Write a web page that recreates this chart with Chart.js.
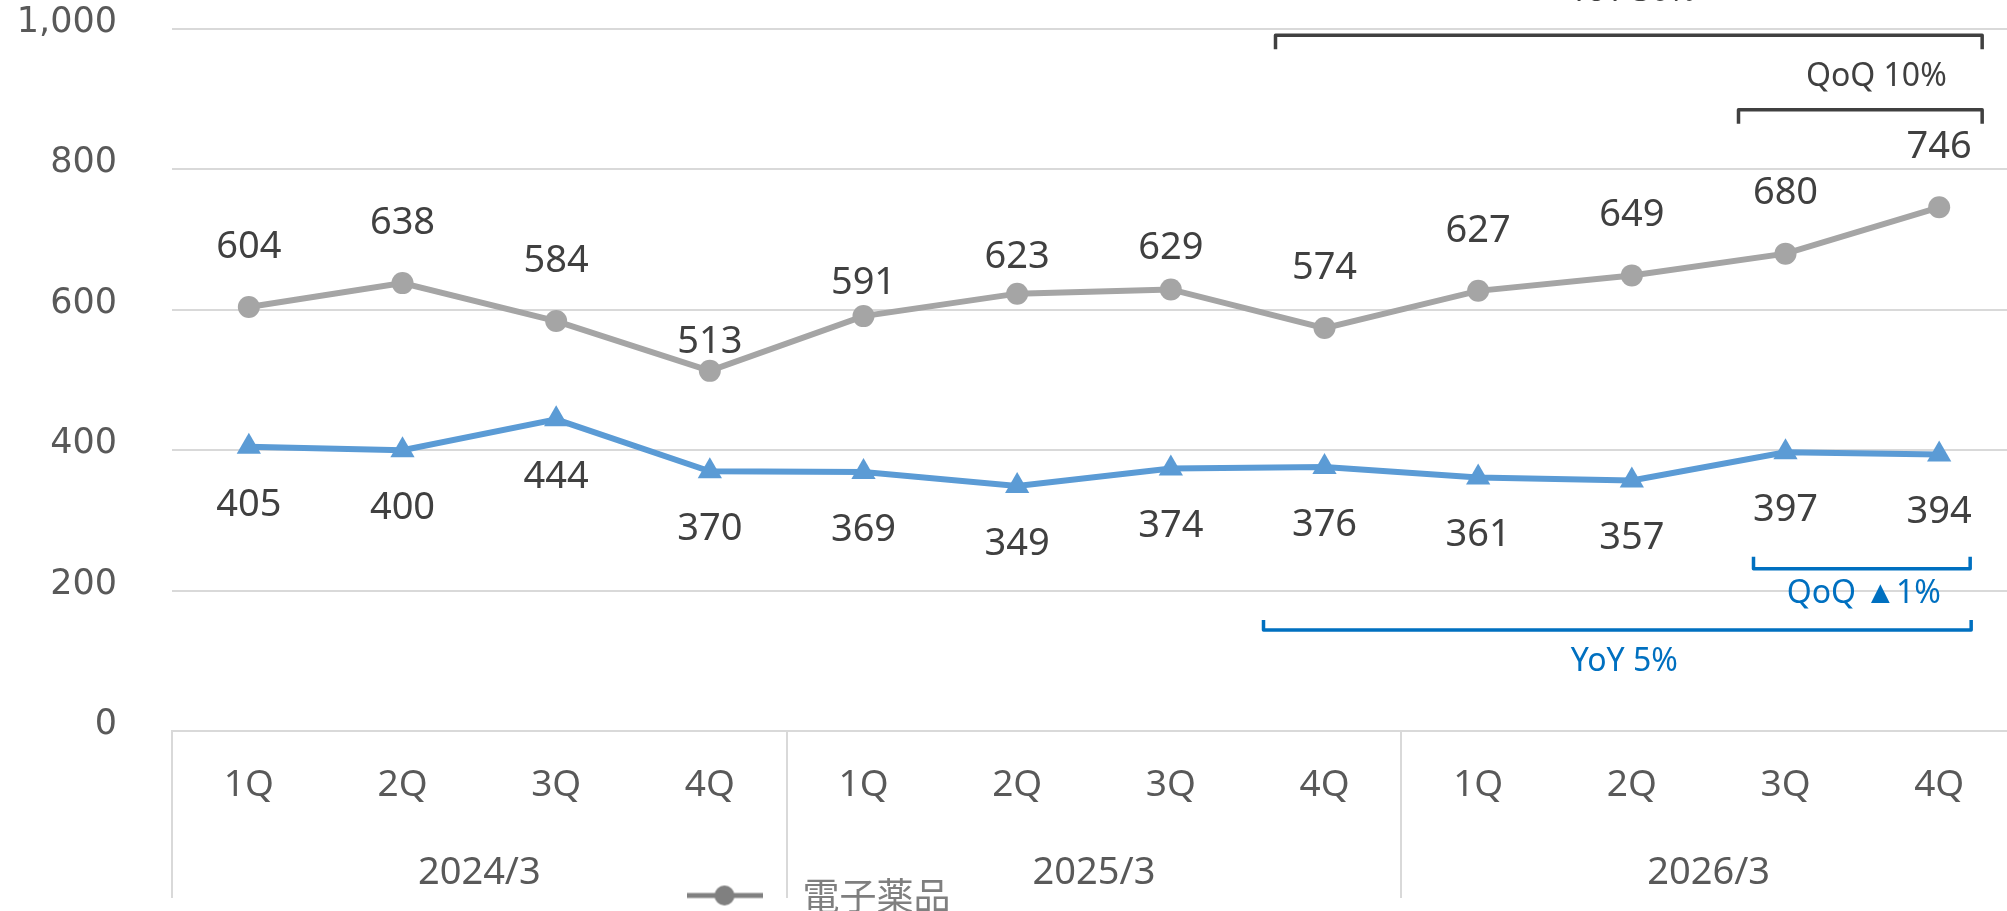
<!DOCTYPE html>
<html lang="ja">
<head>
<meta charset="UTF-8">
<title>電子薬品 四半期推移</title>
<style>
    html, body { margin: 0; padding: 0; overflow: hidden; background: #fff; }
    #chart { display: block; }
</style>
</head>
<body>
<canvas id="chart" width="2030" height="1000"></canvas>
<script src="https://cdn.jsdelivr.net/npm/chart.js@4/dist/chart.umd.min.js"></script>
<script>
// values
const quarters = ['1Q', '2Q', '3Q', '4Q', '1Q', '2Q', '3Q', '4Q', '1Q', '2Q', '3Q', '4Q'];
const fiscalYears = ['2024/3', '2025/3', '2026/3'];
const chemicals = [604, 638, 584, 513, 591, 623, 629, 574, 627, 649, 680, 746];
const secondLine = [405, 400, 444, 370, 369, 349, 374, 376, 361, 357, 397, 394];

// label nudges (px), a few gray labels sit closer to their point
const grayLabelShift = [-60, -60, -60, -29, -33, -36, -41, -60, -60, -60, -60, -60];
const blueLabelShift = [58, 58, 58, 58, 58, 58, 58, 58, 58, 58, 58, 58];

// growth brackets: from/to are category indexes, heights are y values
const growthNotes = [
    { text: 'YoY 30%', from: 7, to: 11, padL: 49, padR: 43, lineAt: 991, hook: 14, textAt: 1053, dx: 4, color: '#404040' },
    { text: 'QoQ 10%', from: 10, to: 11, padL: 47, padR: 43, lineAt: 885, hook: 14, textAt: 932, dx: 16, color: '#404040' },
    { text: 'QoQ ▲1%', from: 10, to: 11, padL: 32, padR: 31, lineAt: 231, hook: -12, textAt: 195, dx: 2, color: '#0070C0' },
    { text: 'YoY 5%', from: 7, to: 11, padL: 61, padR: 32, lineAt: 144, hook: -10, textAt: 99, dx: 7, color: '#0070C0' }
];

const valueLabels = {
    id: 'valueLabels',
    afterDatasetsDraw(chart) {
        const ctx = chart.ctx;
        const shifts = [grayLabelShift, blueLabelShift];
        ctx.save();
        ctx.font = '38px "Noto Sans", "Open Sans", sans-serif';
        ctx.fillStyle = '#404040';
        ctx.textAlign = 'center';
        ctx.textBaseline = 'middle';
        chart.data.datasets.forEach((ds, i) => {
            chart.getDatasetMeta(i).data.forEach((pt, j) => {
                ctx.fillText(String(ds.data[j]), pt.x, pt.y + shifts[i][j]);
            });
        });
        ctx.restore();
    }
};

const brackets = {
    id: 'brackets',
    afterDraw(chart) {
        const ctx = chart.ctx;
        const x = chart.scales.x;
        const y = chart.scales.y;
        ctx.save();
        growthNotes.forEach(n => {
            const left = x.getPixelForValue(n.from) - n.padL;
            const right = x.getPixelForValue(n.to) + n.padR;
            const ly = y.getPixelForValue(n.lineAt);
            ctx.strokeStyle = n.color;
            ctx.lineWidth = 3.5;
            ctx.lineJoin = 'round';
            ctx.beginPath();
            ctx.moveTo(left, ly + n.hook);
            ctx.lineTo(left, ly);
            ctx.lineTo(right, ly);
            ctx.lineTo(right, ly + n.hook);
            ctx.stroke();
            ctx.fillStyle = n.color;
            ctx.font = '32px "Noto Sans", "Open Sans", sans-serif';
            ctx.textAlign = 'center';
            ctx.textBaseline = 'middle';
            ctx.fillText(n.text, (left + right) / 2 + n.dx, y.getPixelForValue(n.textAt));
        });
        ctx.restore();
    }
};

// legend sits left of centre and just under the year labels in the original
const legendPlace = {
    id: 'legendPlace',
    afterLayout(chart) {
        const lg = chart.legend;
        if (lg) {
            const w = lg.right - lg.left;
            const h = lg.bottom - lg.top;
            lg.left = 655;
            lg.right = 655 + w;
            lg.top = 867;
            lg.bottom = 867 + h;
        }
    }
};

function legendMarker() {
    const c = document.createElement('canvas');
    c.width = 76;
    c.height = 24;
    const g = c.getContext('2d');
    g.strokeStyle = '#808080';
    g.lineWidth = 5;
    g.beginPath();
    g.moveTo(0, 12);
    g.lineTo(76, 12);
    g.stroke();
    g.fillStyle = '#808080';
    g.beginPath();
    g.arc(38, 12, 10, 0, Math.PI * 2);
    g.fill();
    return c;
}
const marker = legendMarker();

new Chart(document.getElementById('chart'), {
    type: 'line',
    data: {
        labels: quarters,
        datasets: [
            {
                label: '電子薬品',
                data: chemicals,
                borderColor: '#A5A5A5',
                backgroundColor: '#A5A5A5',
                borderWidth: 6,
                pointStyle: 'circle',
                pointRadius: 11,
                pointBorderWidth: 0,
                tension: 0
            },
            {
                label: '',
                data: secondLine,
                borderColor: '#5B9BD5',
                backgroundColor: '#5B9BD5',
                borderWidth: 6,
                pointStyle: 'triangle',
                pointRadius: 14,
                pointBorderWidth: 0,
                tension: 0
            }
        ]
    },
    options: {
        responsive: false,
        animation: false,
        layout: { padding: { top: 29, right: 7, left: 0, bottom: 0 } },
        scales: {
            x: {
                type: 'category',
                offset: true,
                grid: {
                    offset: true,
                    drawOnChartArea: false,
                    tickLength: 167,
                    lineWidth: 2,
                    color: (c) => (c.index % 4 === 0 ? '#D9D9D9' : 'rgba(0,0,0,0)')
                },
                border: { display: true, color: '#D9D9D9', width: 2 },
                ticks: {
                    autoSkip: false,
                    maxRotation: 0,
                    padding: -135,
                    color: '#595959',
                    font: { family: '"Noto Sans", "Open Sans", sans-serif', size: 37 }
                },
                afterFit: (s) => { s.height = 90; }
            },
            years: {
                type: 'category',
                labels: fiscalYears,
                position: 'bottom',
                offset: true,
                grid: { display: false },
                border: { display: false },
                ticks: {
                    autoSkip: false,
                    maxRotation: 0,
                    padding: 21,
                    color: '#595959',
                    font: { family: '"Noto Sans", "Open Sans", sans-serif', size: 38 }
                },
                afterFit: (s) => { s.height = 122; }
            },
            y: {
                min: 0,
                max: 1000,
                grid: {
                    color: '#D9D9D9',
                    lineWidth: 2,
                    drawTicks: true,
                    tickLength: 52,
                    tickColor: 'rgba(0,0,0,0)'
                },
                border: { display: false },
                ticks: {
                    stepSize: 200,
                    padding: 3,
                    labelOffset: -6,
                    color: '#595959',
                    font: { family: '"DejaVu Sans", Verdana, sans-serif', size: 35 },
                    callback: (v) => v.toLocaleString('en-US')
                },
                afterFit: (s) => { s.width = 172; }
            }
        },
        plugins: {
            tooltip: { enabled: false },
            legend: {
                position: 'bottom',
                align: 'start',
                labels: {
                    usePointStyle: true,
                    pointStyleWidth: 119,
                    padding: 10,
                    color: '#7F7F7F',
                    font: { family: '"Noto Sans CJK JP", "Noto Sans", sans-serif', size: 37 },
                    generateLabels: () => [{
                        text: '電子薬品',
                        pointStyle: marker,
                        fillStyle: '#808080',
                        strokeStyle: '#808080',
                        lineWidth: 0,
                        fontColor: '#7F7F7F',
                        datasetIndex: 0
                    }]
                }
            }
        }
    },
    plugins: [valueLabels, brackets, legendPlace]
});
</script>
</body>
</html>
